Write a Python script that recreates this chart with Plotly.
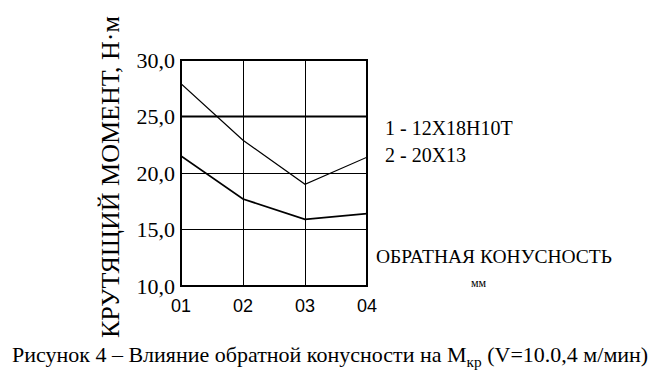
import plotly.graph_objects as go

x_vals = [1, 2, 3, 4]
x_ticks = ["01", "02", "03", "04"]
y_ticks = [10, 15, 20, 25, 30]
y_tick_labels = ["10,0", "15,0", "20,0", "25,0", "30,0"]
series1_name = "1 - 12Х18Н10Т"
series1 = [27.9, 22.9, 19.0, 21.4]
series2_name = "2 - 20Х13"
series2 = [21.5, 17.7, 15.9, 16.4]

SERIF = "Liberation Serif"
SANS = "Liberation Sans"

# page has an 8px body margin; figure is sized so it fits the 660x370 window
OFF = 8
W, H = 660 - OFF, 370 - OFF
PL, PR, PT, PB = 181, 367, 60, 286  # plot area in window pixels
pw, ph = PR - PL, PB - PT

def px(xw):
    return (xw - PL) / pw

def py(yw):
    return (PB - yw) / ph

fig = go.Figure()
fig.add_trace(go.Scatter(x=x_vals, y=series1, mode="lines", name=series1_name,
                         line=dict(color="black", width=1.2), showlegend=False))
fig.add_trace(go.Scatter(x=x_vals, y=series2, mode="lines", name=series2_name,
                         line=dict(color="black", width=1.7), showlegend=False))

fig.update_layout(
    width=W, height=H,
    margin=dict(l=PL - OFF, r=W - (PR - OFF), t=PT - OFF, b=H - (PB - OFF)),
    paper_bgcolor="white", plot_bgcolor="white",
    font=dict(family=SERIF, color="black"),
    xaxis=dict(range=[1, 4], tickmode="array", tickvals=x_vals, ticktext=x_ticks,
               showgrid=True, gridcolor="black", gridwidth=1, zeroline=False,
               ticks="", ticklabelstandoff=7,
               tickfont=dict(family=SANS, size=18, color="black")),
    yaxis=dict(range=[10, 30], tickmode="array", tickvals=y_ticks, ticktext=y_tick_labels,
               showgrid=True, gridcolor="black", gridwidth=1, zeroline=False,
               ticks="", ticklabelstandoff=5,
               tickfont=dict(family=SERIF, size=22, color="black")),
)

# frame
fig.add_shape(type="rect", xref="paper", yref="paper", x0=0, x1=1, y0=0, y1=1,
              line=dict(color="black", width=2))
# heavier 25,0 line
fig.add_shape(type="line", xref="paper", yref="y", x0=0, x1=1, y0=25, y1=25,
              line=dict(color="black", width=2))

# y-axis title
fig.add_annotation(text="КРУТЯЩИЙ МОМЕНТ, Н·м", xref="paper", yref="paper", x=px(110), y=py(177),
                   xanchor="center", yanchor="middle", textangle=-90, showarrow=False,
                   font=dict(family=SERIF, size=26, color="black"))

fig.add_annotation(text=series1_name, xref="paper", yref="paper", x=px(383), y=py(128),
                   xanchor="left", yanchor="middle", showarrow=False,
                   font=dict(family=SERIF, size=20, color="black"))
fig.add_annotation(text=series2_name, xref="paper", yref="paper", x=px(383), y=py(155),
                   xanchor="left", yanchor="middle", showarrow=False,
                   font=dict(family=SERIF, size=20, color="black"))
fig.add_annotation(text="ОБРАТНАЯ КОНУСНОСТЬ", xref="paper", yref="paper", x=px(374),
                   y=py(256), xanchor="left", yanchor="middle", showarrow=False,
                   font=dict(family=SERIF, size=19.5, color="black"))
fig.add_annotation(text="мм", xref="paper", yref="paper", x=px(479),
                   y=py(283), xanchor="center", yanchor="middle", showarrow=False,
                   font=dict(family=SERIF, size=12, color="black"))
fig.add_annotation(text="Рисунок 4 – Влияние обратной конусности на М<sub>кр</sub> (V=10.0,4 м/мин)",
                   xref="paper", yref="paper", x=px(330), y=py(356),
                   xanchor="center", yanchor="middle", showarrow=False,
                   font=dict(family=SERIF, size=22, color="black"))

fig.write_html("out.html")
